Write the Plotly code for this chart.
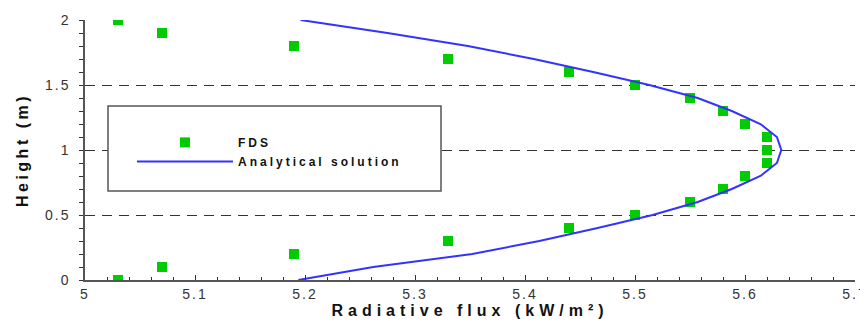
import plotly.graph_objects as go

# FDS simulation points
fds_flux = [5.03, 5.07, 5.19, 5.33, 5.44, 5.50, 5.55, 5.58, 5.60, 5.62, 5.62,
            5.62, 5.60, 5.58, 5.55, 5.50, 5.44, 5.33, 5.19, 5.07, 5.03]
fds_height = [0.0, 0.1, 0.2, 0.3, 0.4, 0.5, 0.6, 0.7, 0.8, 0.9, 1.0,
              1.1, 1.2, 1.3, 1.4, 1.5, 1.6, 1.7, 1.8, 1.9, 2.0]

# Analytical solution
ana_flux = [5.194, 5.262, 5.352, 5.413, 5.466, 5.516, 5.557, 5.588, 5.614, 5.629, 5.633,
            5.629, 5.614, 5.588, 5.557, 5.513, 5.462, 5.408, 5.348, 5.275, 5.196]
ana_height = [0.0, 0.1, 0.2, 0.3, 0.4, 0.5, 0.6, 0.7, 0.8, 0.9, 1.0,
              1.1, 1.2, 1.3, 1.4, 1.5, 1.6, 1.7, 1.8, 1.9, 2.0]

x_ticks = [5.0, 5.1, 5.2, 5.3, 5.4, 5.5, 5.6, 5.7]
x_ticklabels = ["5", "5.1", "5.2", "5.3", "5.4", "5.5", "5.6", "5.7"]
y_ticks = [0, 0.5, 1, 1.5, 2]
y_ticklabels = ["0", "0.5", "1", "1.5", "2"]


def spaced(t, s):
    return f"<span style='letter-spacing:{s}px'>{t}</span>"


fig = go.Figure()
fig.add_trace(go.Scatter(
    x=fds_flux, y=fds_height, mode="markers", name=spaced("FDS", 3),
    marker=dict(symbol="square", size=10, color="#00cc00", line=dict(width=0)),
))
fig.add_trace(go.Scatter(
    x=ana_flux, y=ana_height, mode="lines", name=spaced("Analytical solution", 3),
    line=dict(color="#3333ff", width=2),
))

font_family = "Liberation Sans, Arial, sans-serif"

# page body has an 8px margin: figure is sized/offset to compensate
fig.update_layout(
    width=860, height=316,
    margin=dict(l=77, r=13, t=12, b=44, autoexpand=False),
    paper_bgcolor="white", plot_bgcolor="white",
    font=dict(family=font_family, color="#222"),
    showlegend=True,
    legend=dict(
        x=0.061, y=0.585, xanchor="left", yanchor="top",
        bgcolor="rgba(0,0,0,0)", borderwidth=0,
        font=dict(size=12, weight="bold", color="#111"),
        itemwidth=96, tracegroupgap=0,
    ),
    xaxis=dict(
        range=[5, 5.7], showgrid=False, zeroline=False,
        showline=True, linecolor="#555", linewidth=1.5,
        tickmode="array", tickvals=x_ticks,
        ticktext=[spaced(t, 2) for t in x_ticklabels],
        ticks="inside", ticklen=5, tickcolor="#333", tickwidth=1,
        minor=dict(dtick=0.02, ticks="inside", ticklen=3, tickcolor="#333", showgrid=False),
        tickfont=dict(size=14, color="#333"),
        title=dict(text=spaced("Radiative flux (kW/m²)", 5),
                   font=dict(size=16, weight="bold", color="#111"), standoff=2),
    ),
    yaxis=dict(
        range=[0, 2], zeroline=False,
        showgrid=True, gridcolor="#333", gridwidth=1, griddash="10px,7px",
        showline=True, linecolor="#555", linewidth=1.5,
        tickmode="array", tickvals=y_ticks,
        ticktext=[spaced(t, 2) for t in y_ticklabels],
        ticks="outside", ticklen=4, tickcolor="#333", tickwidth=1,
        minor=dict(dtick=0.1, ticks="outside", ticklen=4, tickcolor="#333", showgrid=False),
        tickfont=dict(size=14, color="#333"),
        ticklabelstandoff=6,
        title=dict(text=spaced("Height (m)", 3.5),
                   font=dict(size=16, weight="bold", color="#111"), standoff=12),
    ),
    shapes=[dict(type="rect", xref="paper", yref="paper",
                 x0=(108 - 85) / 770, x1=(441 - 85) / 770,
                 y0=(280 - 191) / 260, y1=(280 - 106) / 260,
                 line=dict(color="#555", width=1.5), fillcolor="white",
                 layer="above")],
)

fig.write_html("out.html")
